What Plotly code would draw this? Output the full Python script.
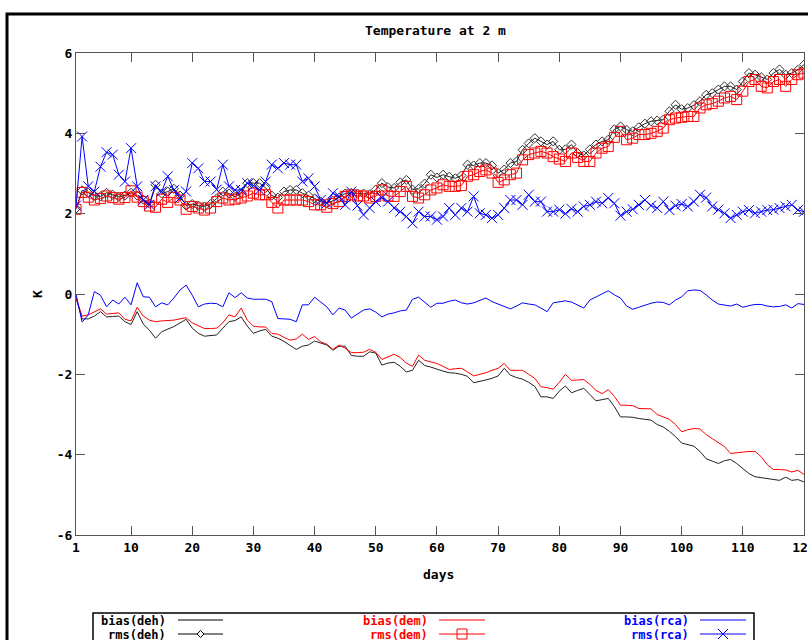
import plotly.graph_objects as go

days = list(range(1, 121))

bias_deh = [-0.10, -0.62, -0.62, -0.55, -0.44, -0.57, -0.56, -0.55, -0.69, -0.76,
            -0.44, -0.75, -0.90, -1.10, -0.94, -0.88, -0.81, -0.72, -0.63, -0.85,
            -0.98, -1.05, -1.04, -1.02, -0.85, -0.69, -0.66, -0.57, -0.80, -0.98,
            -0.92, -0.88, -1.05, -1.10, -1.18, -1.28, -1.38, -1.30, -1.27, -1.17,
            -1.22, -1.27, -1.40, -1.30, -1.30, -1.53, -1.55, -1.55, -1.44, -1.47,
            -1.77, -1.72, -1.70, -1.80, -1.94, -1.90, -1.65, -1.78, -1.82, -1.88,
            -1.92, -1.96, -1.97, -2.00, -2.05, -2.21, -2.18, -2.14, -2.10, -2.04,
            -1.85, -2.02, -2.08, -2.12, -2.20, -2.30, -2.56, -2.56, -2.60, -2.42,
            -2.29, -2.46, -2.40, -2.35, -2.50, -2.66, -2.63, -2.60, -2.80, -3.06,
            -3.06, -3.07, -3.10, -3.12, -3.14, -3.25, -3.31, -3.42, -3.55, -3.71,
            -3.75, -3.79, -3.92, -4.10, -4.16, -4.22, -4.15, -4.12, -4.22, -4.35,
            -4.47, -4.55, -4.57, -4.60, -4.62, -4.64, -4.56, -4.64, -4.62, -4.68]

rms_deh = [2.13, 2.58, 2.52, 2.45, 2.43, 2.52, 2.47, 2.42, 2.45, 2.52,
           2.45, 2.35, 2.25, 2.72, 2.50, 2.55, 2.62, 2.45, 2.20, 2.24,
           2.20, 2.18, 2.24, 2.38, 2.55, 2.50, 2.42, 2.52, 2.76, 2.76,
           2.76, 2.64, 2.45, 2.40, 2.55, 2.59, 2.59, 2.51, 2.45, 2.38,
           2.30, 2.26, 2.32, 2.40, 2.50, 2.52, 2.50, 2.50, 2.48, 2.60,
           2.76, 2.66, 2.64, 2.78, 2.84, 2.60, 2.62, 2.75, 2.97, 2.90,
           2.97, 2.92, 2.88, 2.95, 3.22, 3.20, 3.26, 3.26, 3.20, 3.01,
           3.10, 3.26, 3.30, 3.59, 3.75, 3.88, 3.80, 3.72, 3.80, 3.59,
           3.60, 3.72, 3.51, 3.45, 3.60, 3.72, 3.80, 3.84, 4.10, 4.17,
           4.09, 4.05, 4.15, 4.24, 4.30, 4.32, 4.34, 4.55, 4.71, 4.60,
           4.63, 4.70, 4.80, 4.96, 5.00, 5.09, 5.17, 5.17, 5.09, 5.29,
           5.50, 5.46, 5.40, 5.34, 5.50, 5.59, 5.46, 5.50, 5.58, 5.71]

bias_dem = [-0.10, -0.55, -0.52, -0.45, -0.37, -0.50, -0.48, -0.47, -0.63, -0.67,
            -0.33, -0.55, -0.65, -0.69, -0.67, -0.66, -0.65, -0.62, -0.59, -0.72,
            -0.80, -0.86, -0.86, -0.85, -0.72, -0.52, -0.57, -0.35, -0.65, -0.80,
            -0.82, -0.82, -0.98, -1.00, -1.08, -1.15, -1.12, -1.00, -1.13, -1.06,
            -1.19, -1.25, -1.38, -1.27, -1.35, -1.46, -1.46, -1.45, -1.38, -1.45,
            -1.63, -1.56, -1.50, -1.58, -1.72, -1.80, -1.52, -1.65, -1.69, -1.73,
            -1.80, -1.88, -1.86, -1.85, -1.94, -2.04, -2.00, -1.96, -1.90, -1.85,
            -1.73, -1.90, -1.90, -1.90, -2.00, -2.10, -2.31, -2.33, -2.37, -2.20,
            -2.00, -2.15, -2.14, -2.13, -2.25, -2.40, -2.48, -2.38, -2.55, -2.77,
            -2.77, -2.78, -2.85, -2.85, -2.86, -3.00, -3.06, -3.12, -3.25, -3.43,
            -3.38, -3.35, -3.36, -3.50, -3.60, -3.70, -3.80, -3.97, -3.95, -3.93,
            -3.92, -3.92, -4.05, -4.25, -4.37, -4.37, -4.38, -4.43, -4.39, -4.49]

rms_dem = [2.11, 2.53, 2.41, 2.34, 2.38, 2.44, 2.40, 2.36, 2.40, 2.57,
           2.41, 2.30, 2.19, 2.16, 2.36, 2.28, 2.41, 2.34, 2.11, 2.18,
           2.14, 2.09, 2.14, 2.30, 2.39, 2.34, 2.36, 2.39, 2.44, 2.51,
           2.47, 2.47, 2.28, 2.14, 2.34, 2.34, 2.34, 2.34, 2.30, 2.22,
           2.22, 2.16, 2.25, 2.30, 2.43, 2.47, 2.44, 2.44, 2.39, 2.43,
           2.59, 2.44, 2.43, 2.55, 2.68, 2.43, 2.39, 2.47, 2.59, 2.64,
           2.72, 2.68, 2.68, 2.70, 2.93, 2.97, 3.05, 3.09, 3.01, 2.78,
           2.84, 2.97, 3.01, 3.34, 3.47, 3.51, 3.55, 3.51, 3.42, 3.36,
           3.30, 3.51, 3.40, 3.30, 3.30, 3.51, 3.63, 3.67, 3.90, 4.05,
           3.84, 3.88, 3.97, 3.97, 4.00, 4.05, 4.13, 4.34, 4.38, 4.40,
           4.42, 4.42, 4.63, 4.71, 4.74, 4.80, 4.88, 4.92, 4.84, 5.05,
           5.29, 5.34, 5.17, 5.13, 5.29, 5.34, 5.17, 5.34, 5.46, 5.50]

bias_rca = [0.00, -0.70, -0.52, 0.06, -0.03, -0.32, -0.15, -0.25, -0.08, -0.27,
            0.28, -0.07, -0.08, -0.32, -0.22, -0.27, -0.10, 0.10, 0.22, -0.03,
            -0.32, -0.25, -0.23, -0.24, -0.32, 0.03, -0.09, 0.03, -0.10, -0.13,
            -0.13, -0.13, -0.19, -0.61, -0.62, -0.63, -0.69, -0.27, -0.27, -0.08,
            -0.20, -0.32, -0.52, -0.35, -0.40, -0.60, -0.50, -0.40, -0.37, -0.45,
            -0.57, -0.50, -0.47, -0.42, -0.40, -0.13, -0.08, -0.20, -0.33, -0.23,
            -0.23, -0.18, -0.15, -0.22, -0.25, -0.22, -0.15, -0.10, -0.19, -0.25,
            -0.32, -0.37, -0.30, -0.22, -0.25, -0.27, -0.35, -0.44, -0.22, -0.20,
            -0.17, -0.20, -0.28, -0.35, -0.15, -0.07, 0.00, 0.08, -0.02, -0.10,
            -0.30, -0.38, -0.33, -0.27, -0.23, -0.20, -0.21, -0.27, -0.15, -0.07,
            0.08, 0.10, 0.09, -0.02, -0.15, -0.25, -0.28, -0.30, -0.25, -0.33,
            -0.29, -0.26, -0.26, -0.30, -0.32, -0.31, -0.27, -0.35, -0.24, -0.26]

rms_rca = [2.20, 3.92, 2.68, 2.55, 3.17, 3.53, 3.47, 2.97, 2.80, 3.63,
           2.68, 2.34, 2.22, 2.68, 2.55, 2.93, 2.59, 2.39, 2.55, 3.26,
           3.13, 2.80, 2.80, 2.60, 3.22, 2.68, 2.59, 2.59, 2.76, 2.70,
           2.59, 2.80, 3.22, 3.13, 3.26, 3.22, 3.22, 2.80, 2.88, 2.68,
           2.34, 2.26, 2.51, 2.43, 2.22, 2.55, 2.20, 1.97, 2.14, 2.30,
           2.40, 2.30, 2.14, 2.05, 1.93, 1.76, 2.05, 1.93, 1.93, 1.85,
           1.93, 2.14, 1.97, 2.14, 2.05, 2.43, 2.01, 1.97, 1.89, 1.97,
           2.14, 2.34, 2.34, 2.22, 2.47, 2.30, 2.30, 2.05, 2.05, 2.10,
           2.00, 2.12, 2.05, 2.18, 2.22, 2.30, 2.26, 2.39, 2.26, 1.95,
           2.05, 2.11, 2.22, 2.34, 2.20, 2.14, 2.30, 2.09, 2.20, 2.24,
           2.18, 2.30, 2.47, 2.40, 2.18, 2.10, 2.01, 1.89, 1.97, 2.05,
           2.09, 2.01, 2.05, 2.09, 2.10, 2.14, 2.18, 2.22, 2.09, 2.05]

x_ticks = [1, 10, 20, 30, 40, 50, 60, 70, 80, 90, 100, 110, 120]
y_ticks = [-6, -4, -2, 0, 2, 4, 6]

legend_labels = ["bias(deh)", "rms(deh)", "bias(dem)", "rms(dem)", "bias(rca)", "rms(rca)"]
colors = ["#000000", "#000000", "#ff0000", "#ff0000", "#0000ff", "#0000ff"]

FONT = dict(family="DejaVu Sans Mono", size=13, color="black", weight="bold")
LEG_FONT = dict(family="DejaVu Sans Mono", size=12, color="black", weight="bold")

W, H = 808, 640
L, R, T, B = 76, 4, 53, 105
PW, PH = W - L - R, H - T - B


def px(xp):
    return (xp - L) / PW


def py(yp):
    return (H - B - yp) / PH


fig = go.Figure()
fig.add_trace(go.Scatter(x=days, y=bias_deh, mode="lines", line=dict(color="#222", width=1), name=legend_labels[0]))
fig.add_trace(go.Scatter(x=days, y=rms_deh, mode="lines+markers", line=dict(color="#222", width=1),
                         marker=dict(symbol="diamond-open", size=7, color="#333", line=dict(width=1)), name=legend_labels[1]))
fig.add_trace(go.Scatter(x=days, y=bias_dem, mode="lines", line=dict(color="#ff0000", width=1), name=legend_labels[2]))
fig.add_trace(go.Scatter(x=days, y=rms_dem, mode="lines+markers", line=dict(color="#ff0000", width=1),
                         marker=dict(symbol="square-open", size=10, color="#ff0000", line=dict(width=1)), name=legend_labels[3]))
fig.add_trace(go.Scatter(x=days, y=bias_rca, mode="lines", line=dict(color="#0000ff", width=1), name=legend_labels[4]))
fig.add_trace(go.Scatter(x=days, y=rms_rca, mode="lines+markers", line=dict(color="#0000ff", width=1),
                         marker=dict(symbol="x-thin-open", size=10, color="#0000ff", line=dict(width=1, color="#0000ff")),
                         name=legend_labels[5]))

axis_common = dict(showgrid=False, zeroline=False, showline=True, linecolor="#555", linewidth=1,
                   mirror="allticks", ticks="inside", ticklen=9, tickcolor="#555", tickwidth=1,
                   tickfont=FONT, ticklabeloverflow="allow")

fig.update_xaxes(range=[1, 120], tickvals=x_ticks, ticktext=[str(v) for v in x_ticks], **axis_common)
fig.update_yaxes(range=[-6, 6], tickvals=y_ticks, ticktext=[str(v) for v in y_ticks], **axis_common)

shapes = []
annotations = []

# outer frame
shapes.append(dict(type="rect", xref="paper", yref="paper", x0=px(7), x1=px(830), y0=py(14), y1=py(700),
                   line=dict(color="black", width=3)))

annotations.append(dict(text="Temperature at 2 m", xref="paper", yref="paper", x=px(435), y=py(31),
                        showarrow=False, font=FONT, xanchor="center", yanchor="middle"))
annotations.append(dict(text="days", xref="paper", yref="paper", x=px(438), y=py(574),
                        showarrow=False, font=FONT, xanchor="center", yanchor="middle"))
annotations.append(dict(text="K", xref="paper", yref="paper", x=px(37), y=py(294), textangle=-90,
                        showarrow=False, font=FONT, xanchor="center", yanchor="middle"))

# legend box
shapes.append(dict(type="rect", xref="paper", yref="paper", x0=px(93), x1=px(754), y0=py(613), y1=py(700),
                   line=dict(color="black", width=1.5)))

text_right = [168, 430, 691]
sample = [(178, 223), (439, 485), (700, 746)]
row_y = [620, 634]
for i, lab in enumerate(legend_labels):
    col, row = i // 2, i % 2
    c = colors[i]
    yy = row_y[row]
    annotations.append(dict(text=lab, xref="paper", yref="paper", x=px(text_right[col]), y=py(yy),
                            showarrow=False, font=dict(LEG_FONT, color=c), xanchor="right", yanchor="middle",
                            height=13, valign="middle"))
    x0, x1 = sample[col]
    shapes.append(dict(type="line", xref="paper", yref="paper", x0=px(x0), x1=px(x1), y0=py(yy), y1=py(yy),
                       line=dict(color=c, width=1)))
    if row == 1:
        cx = (x0 + x1) / 2
        if col == 0:
            d = 3.5
            path = f"M {px(cx - d)} {py(yy)} L {px(cx)} {py(yy - d)} L {px(cx + d)} {py(yy)} L {px(cx)} {py(yy + d)} Z"
            shapes.append(dict(type="path", xref="paper", yref="paper", path=path,
                               line=dict(color=c, width=1), fillcolor="white"))
        elif col == 1:
            d = 5
            shapes.append(dict(type="rect", xref="paper", yref="paper", x0=px(cx - d), x1=px(cx + d),
                               y0=py(yy - d), y1=py(yy + d), line=dict(color=c, width=1)))
        else:
            d = 5
            path = (f"M {px(cx - d)} {py(yy - d)} L {px(cx + d)} {py(yy + d)} "
                    f"M {px(cx - d)} {py(yy + d)} L {px(cx + d)} {py(yy - d)}")
            shapes.append(dict(type="path", xref="paper", yref="paper", path=path, line=dict(color=c, width=1)))

fig.update_layout(width=W, height=H, margin=dict(l=L, r=R, t=T, b=B, autoexpand=False),
                  paper_bgcolor="white", plot_bgcolor="white", showlegend=False,
                  shapes=shapes, annotations=annotations, font=FONT)

fig.write_html("out.html")
